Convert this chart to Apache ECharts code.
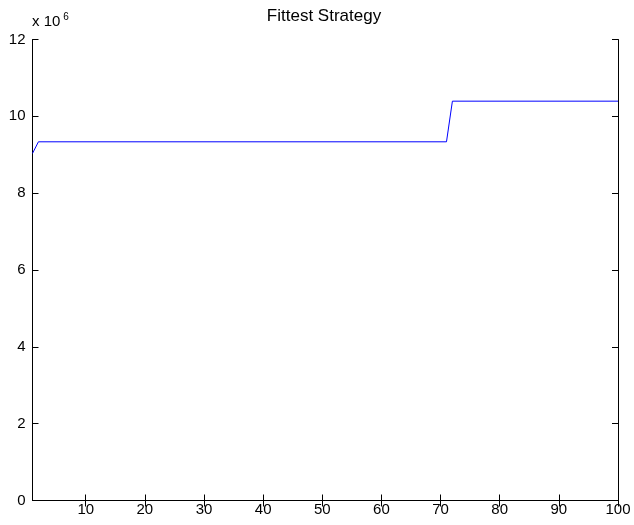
<!DOCTYPE html>
<html>
<head>
<meta charset="utf-8">
<script src="https://cdn.jsdelivr.net/npm/echarts@6/dist/echarts.min.js"></script>
<style>
  html, body { margin: 0; padding: 0; background: #fff; }
  #chart { width: 634px; height: 525px; }
</style>
</head>
<body>
<div id="chart"></div>
<script>
// Best fitness per generation (only the points where the value changes, plus ends)
const generations = [1, 2, 71, 72, 100];
const fitness = [9.035e6, 9.337e6, 9.337e6, 10.395e6, 10.395e6];

// Axis ticks
const xTicks = [10, 20, 30, 40, 50, 60, 70, 80, 90, 100];
const yTicks = [0, 2, 4, 6, 8, 10, 12];
const yScale = 1e6;

const FONT = '"Liberation Sans", Arial, Helvetica, sans-serif';

const chart = echarts.init(document.getElementById('chart'), null, { renderer: 'canvas' });

const baseX = {
  type: 'value',
  min: 1,
  max: 100,
  splitLine: { show: false },
  axisLine: { show: true, lineStyle: { color: '#000', width: 1 } },
  axisTick: { show: true, inside: true, length: 6, customValues: xTicks, lineStyle: { color: '#000' } }
};
const baseY = {
  type: 'value',
  min: yTicks[0] * yScale,
  max: yTicks[yTicks.length - 1] * yScale,
  interval: 2 * yScale,
  splitLine: { show: false },
  axisLine: { show: true, lineStyle: { color: '#000', width: 1 } },
  axisTick: { show: true, inside: true, length: 6, lineStyle: { color: '#000' } }
};

chart.setOption({
  animation: false,
  backgroundColor: '#fff',
  textStyle: { fontFamily: FONT },
  graphic: [{
    // plot title, centred over the axes box
    type: 'text',
    x: 324,
    y: 8,
    style: {
      text: 'Fittest Strategy',
      align: 'center',
      verticalAlign: 'top',
      fontFamily: FONT,
      fontSize: 17,
      fill: '#000'
    }
  }, {
    // y-axis exponent
    type: 'text',
    left: 32,
    top: 12,
    style: {
      text: 'x 10{sup|6}',
      fontFamily: FONT,
      fontSize: 15,
      fill: '#000',
      rich: { sup: { fontSize: 10, verticalAlign: 'top', padding: [0, 0, 10, 3], fontFamily: FONT } }
    }
  }],
  grid: { left: 32.5, right: 16, top: 39.5, bottom: 24.5, containLabel: false },
  xAxis: [
    Object.assign({}, baseX, {
      position: 'bottom',
      axisLabel: {
        show: true, customValues: xTicks, margin: 2,
        color: '#000', fontSize: 15, fontFamily: FONT
      }
    }),
    Object.assign({}, baseX, { position: 'top', axisLabel: { show: false } })
  ],
  yAxis: [
    Object.assign({}, baseY, {
      position: 'left',
      axisLabel: {
        show: true, margin: 7, color: '#000', fontSize: 15, fontFamily: FONT,
        padding: [0, 0, 4, 0],
        formatter: v => String(Math.round(v / yScale))
      }
    }),
    Object.assign({}, baseY, { position: 'right', axisLabel: { show: false } })
  ],
  series: [{
    type: 'line',
    xAxisIndex: 0,
    yAxisIndex: 0,
    data: generations.map((g, i) => [g, fitness[i]]),
    showSymbol: false,
    lineStyle: { color: '#0000ff', width: 1 },
    itemStyle: { color: '#0000ff' }
  }]
});
</script>
</body>
</html>
